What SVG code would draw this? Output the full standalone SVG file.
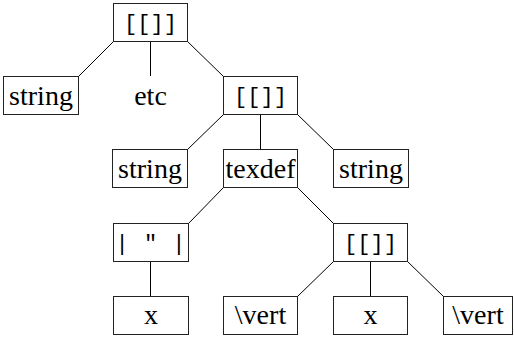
<svg xmlns="http://www.w3.org/2000/svg" width="514" height="338" viewBox="0 0 514 338">
  <style>
    .box { fill: #fff; stroke: #222; stroke-width: 1; }
    .rm { font-family: "Liberation Serif", "Times New Roman", serif; font-size: 28px; fill: #000; text-anchor: middle; }
    .tt { font-family: "Liberation Mono", "DejaVu Sans Mono", monospace; font-size: 22px; fill: #000; text-anchor: middle; }
    .edge { stroke: #000; stroke-width: 1; fill: none; }
  </style>
  <rect width="514" height="338" fill="#fff"/>

  <g id="connectors">
    <line class="edge" x1="113.5" y1="41.5" x2="78.5" y2="76.5"/>
    <line class="edge" x1="150.5" y1="41.5" x2="150.5" y2="76"/>
    <line class="edge" x1="187.5" y1="41.5" x2="223.5" y2="76.5"/>
    <line class="edge" x1="223.5" y1="114.5" x2="187.5" y2="149.5"/>
    <line class="edge" x1="260.5" y1="114.5" x2="260.5" y2="149.5"/>
    <line class="edge" x1="297.5" y1="114.5" x2="333.5" y2="149.5"/>
    <line class="edge" x1="223.5" y1="187.5" x2="188.5" y2="223.5"/>
    <line class="edge" x1="297.5" y1="187.5" x2="333.5" y2="223.5"/>
    <line class="edge" x1="150.5" y1="261.5" x2="150.5" y2="296.5"/>
    <line class="edge" x1="333.5" y1="261.5" x2="297.5" y2="296.5"/>
    <line class="edge" x1="370.5" y1="261.5" x2="370.5" y2="296.5"/>
    <line class="edge" x1="407.5" y1="261.5" x2="443.5" y2="296.5"/>
  </g>

  <g id="root">
    <rect class="box" x="113.5" y="3.5" width="74" height="38"/>
    <text class="tt" x="150.5" y="29.5">[[]]</text>
  </g>
  <g id="string-a">
    <rect class="box" x="3.5" y="76.5" width="75" height="38"/>
    <text class="rm" x="41" y="105">string</text>
  </g>
  <g id="etc">
    <text class="rm" x="150.5" y="105">etc</text>
  </g>
  <g id="list-b">
    <rect class="box" x="223.5" y="76.5" width="74" height="38"/>
    <text class="tt" x="260.5" y="102.5">[[]]</text>
  </g>
  <g id="string-b">
    <rect class="box" x="112.5" y="149.5" width="75" height="38"/>
    <text class="rm" x="150" y="178">string</text>
  </g>
  <g id="texdef">
    <rect class="box" x="223.5" y="149.5" width="74" height="38"/>
    <text class="rm" x="260.5" y="178">texdef</text>
  </g>
  <g id="string-c">
    <rect class="box" x="333.5" y="149.5" width="75" height="38"/>
    <text class="rm" x="371" y="178">string</text>
  </g>
  <g id="quote">
    <rect class="box" x="113.5" y="223.5" width="75" height="38"/>
    <text class="tt" x="151" y="249.5" letter-spacing="1" xml:space="preserve">| " |</text>
  </g>
  <g id="list-c">
    <rect class="box" x="333.5" y="223.5" width="74" height="38"/>
    <text class="tt" x="370.5" y="249.5">[[]]</text>
  </g>
  <g id="x-a">
    <rect class="box" x="113.5" y="296.5" width="75" height="38"/>
    <text class="rm" x="151" y="324">x</text>
  </g>
  <g id="vert-a">
    <rect class="box" x="223.5" y="296.5" width="74" height="38"/>
    <text class="rm" x="260.5" y="324">\vert</text>
  </g>
  <g id="x-b">
    <rect class="box" x="333.5" y="296.5" width="74" height="38"/>
    <text class="rm" x="370.5" y="324">x</text>
  </g>
  <g id="vert-b">
    <rect class="box" x="443.5" y="296.5" width="69" height="38"/>
    <text class="rm" x="478" y="324">\vert</text>
  </g>
</svg>
